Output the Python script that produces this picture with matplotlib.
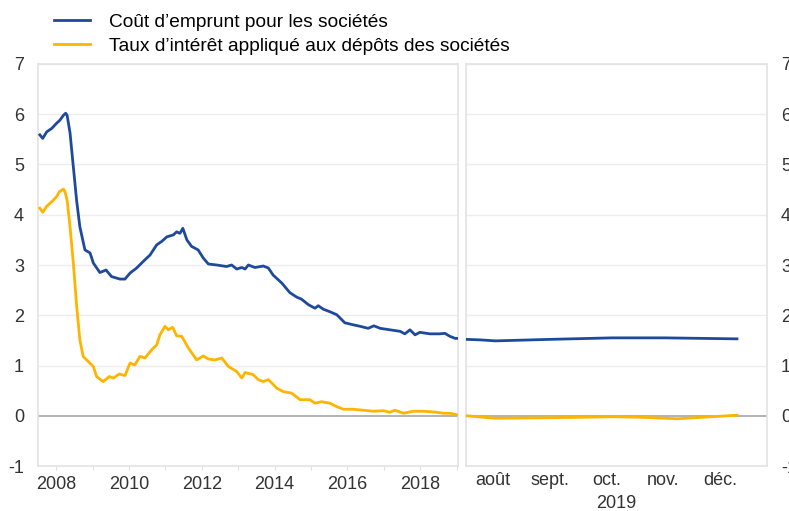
import matplotlib
matplotlib.use("Agg")
import matplotlib.pyplot as plt

plt.rcParams['font.family'] = ['Liberation Sans', 'DejaVu Sans']
plt.rcParams['axes.unicode_minus'] = False

# série longue (années décimales)
t_cout = [2008.05, 2008.13, 2008.24, 2008.38, 2008.51, 2008.60, 2008.70, 2008.76, 2008.80, 2008.88,
          2008.97, 2009.06, 2009.15, 2009.29, 2009.43, 2009.52, 2009.70, 2009.87, 2010.02, 2010.25,
          2010.39, 2010.53, 2010.71, 2010.89, 2011.08, 2011.26, 2011.40, 2011.54, 2011.72, 2011.81,
          2011.90, 2011.98, 2012.09, 2012.22, 2012.40, 2012.54, 2012.68, 2012.91, 2013.18, 2013.32,
          2013.46, 2013.60, 2013.69, 2013.78, 2013.96, 2014.19, 2014.33, 2014.46, 2014.70, 2014.92,
          2015.11, 2015.24, 2015.43, 2015.61, 2015.70, 2015.84, 2016.02, 2016.21, 2016.43, 2016.66,
          2016.85, 2017.07, 2017.23, 2017.40, 2017.67, 2017.95, 2018.08, 2018.22, 2018.36, 2018.49,
          2018.77, 2019.04, 2019.18, 2019.32, 2019.46, 2019.51]
cout = [5.59, 5.52, 5.65, 5.72, 5.82, 5.88, 5.98, 6.02, 5.98, 5.63,
        4.96, 4.29, 3.76, 3.30, 3.24, 3.04, 2.85, 2.90, 2.77, 2.72,
        2.72, 2.84, 2.94, 3.07, 3.20, 3.40, 3.47, 3.56, 3.60, 3.66,
        3.63, 3.73, 3.50, 3.37, 3.30, 3.14, 3.02, 3.00, 2.97, 3.00,
        2.92, 2.95, 2.92, 3.00, 2.95, 2.98, 2.94, 2.80, 2.64, 2.45,
        2.36, 2.32, 2.21, 2.14, 2.19, 2.12, 2.07, 2.01, 1.85, 1.81,
        1.78, 1.74, 1.79, 1.74, 1.71, 1.68, 1.63, 1.71, 1.61, 1.66,
        1.63, 1.63, 1.64, 1.58, 1.54, 1.54]

t_depot = [2008.05, 2008.13, 2008.24, 2008.38, 2008.51, 2008.59, 2008.70, 2008.74, 2008.80, 2008.88,
           2008.97, 2009.06, 2009.15, 2009.24, 2009.38, 2009.52, 2009.61, 2009.79, 2009.96, 2010.07,
           2010.23, 2010.39, 2010.53, 2010.66, 2010.80, 2010.94, 2011.12, 2011.26, 2011.35, 2011.49,
           2011.58, 2011.70, 2011.81, 2011.95, 2012.13, 2012.36, 2012.54, 2012.68, 2012.86, 2013.05,
           2013.23, 2013.46, 2013.60, 2013.69, 2013.91, 2014.05, 2014.19, 2014.33, 2014.56, 2014.74,
           2014.97, 2015.20, 2015.47, 2015.61, 2015.79, 2016.02, 2016.21, 2016.39, 2016.66, 2016.94,
           2017.21, 2017.49, 2017.67, 2017.81, 2018.04, 2018.31, 2018.59, 2018.95, 2019.13, 2019.32,
           2019.50]
depot = [4.13, 4.05, 4.17, 4.26, 4.36, 4.46, 4.51, 4.46, 4.29, 3.76,
         3.05, 2.20, 1.51, 1.18, 1.08, 0.98, 0.78, 0.68, 0.78, 0.75,
         0.83, 0.80, 1.05, 1.01, 1.18, 1.15, 1.31, 1.41, 1.61, 1.78,
         1.71, 1.76, 1.59, 1.58, 1.35, 1.11, 1.19, 1.13, 1.11, 1.15,
         0.98, 0.88, 0.75, 0.86, 0.82, 0.72, 0.68, 0.72, 0.55, 0.48,
         0.45, 0.32, 0.32, 0.25, 0.28, 0.25, 0.18, 0.13, 0.13, 0.11,
         0.09, 0.10, 0.07, 0.11, 0.05, 0.09, 0.09, 0.07, 0.05, 0.05,
         0.02]

# 2019 (mois)
m_2019 = [7.52, 7.77, 8.04, 9.0, 10.1, 11.03, 12.3]
cout_2019 = [1.52, 1.51, 1.49, 1.52, 1.55, 1.55, 1.53]
m_2019_d = [7.52, 8.04, 9.0, 10.1, 10.6, 11.25, 12.3]
depot_2019 = [0.0, -0.05, -0.04, -0.02, -0.03, -0.06, 0.01]

annees = list(range(2008, 2020))
mois = [8, 9, 10, 11, 12]
mois_labels = ['août', 'sept.', 'oct.', 'nov.', 'déc.']

bleu = '#1f4a9c'
jaune = '#ffb400'

W, H = 789, 511
fig = plt.figure(figsize=(W / 100, H / 100), dpi=100)
ax1 = fig.add_axes([38 / W, 45 / H, 420 / W, 402 / H])
ax2 = fig.add_axes([466 / W, 45 / H, 301 / W, 402 / H])

for ax in (ax1, ax2):
    ax.set_ylim(-1, 7)
    ax.set_yticks(range(-1, 8))
    for v in range(0, 8):
        if v == 0:
            ax.axhline(0, color='#a6a6a6', lw=1.2, zorder=1)
        else:
            ax.axhline(v, color='#ededed', lw=1.0, zorder=0)
    for s in ax.spines.values():
        s.set_color('#e3e3e3')
        s.set_linewidth(1.2)
    ax.tick_params(axis='y', length=0, labelsize=13, colors='#333333', pad=10)
    ax.tick_params(axis='x', length=3, color='#e0e0e0', labelsize=13,
                   labelcolor='#333333', pad=4)

ax1.plot(t_cout, cout, color=bleu, lw=2.0, zorder=3, label="Coût d’emprunt pour les sociétés")
ax1.plot(t_depot, depot, color=jaune, lw=2.0, zorder=3,
         label="Taux d’intérêt appliqué aux dépôts des sociétés")
ax1.set_xlim(2008.0, 2019.54)
ax1.set_xticks([a + 0.5 for a in annees])
ax1.set_xticklabels([str(a) if a % 2 == 0 else '' for a in annees])

ax2.plot(m_2019, cout_2019, color=bleu, lw=2.0, zorder=3)
ax2.plot(m_2019_d, depot_2019, color=jaune, lw=2.0, zorder=3)
ax2.set_xlim(7.52, 12.83)
ax2.set_xticks(mois)
ax2.set_xticklabels(mois_labels)
ax2.tick_params(axis='x', length=0)
ax2.yaxis.tick_right()
ax2.tick_params(axis='y', labelright=True, labelleft=False, pad=10)
ax2.text(0.5, -0.072, '2019', transform=ax2.transAxes, ha='center', va='top',
         fontsize=13, color='#333333')

fig.legend(loc='upper left', bbox_to_anchor=(46 / W, 1 - 6 / H), frameon=False,
           fontsize=13.8, handlelength=1.9, handletextpad=1.0, labelspacing=0.35,
           borderaxespad=0)

fig.savefig('out.png', dpi=100)
